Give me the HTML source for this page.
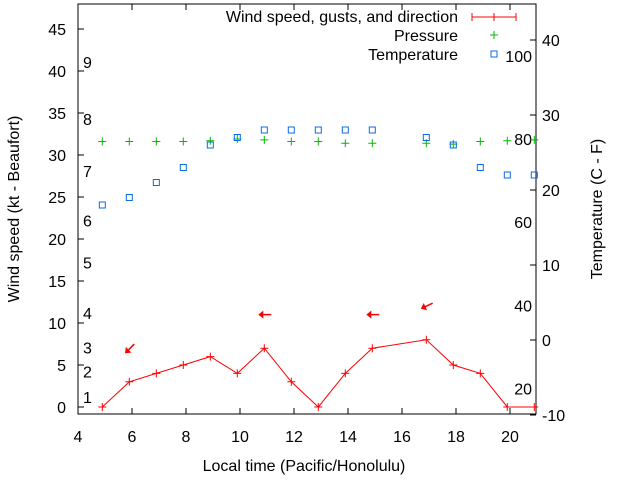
<!DOCTYPE html>
<html><head><meta charset="utf-8"><style>
body{margin:0;background:#fff;}
svg{font-family:"Liberation Sans",sans-serif;font-size:16px;}
</style></head><body>
<svg id="c" width="640" height="480"></svg>
<script>
const times=[4.9,5.9,6.9,7.9,8.9,9.9,10.9,11.9,12.9,13.9,14.9,16.9,17.9,18.9,19.9,20.9];
const wind=[0,3,4,5,6,4,7,3,0,4,7,8,5,4,0,0];
const pressure=[31.6,31.6,31.6,31.6,31.7,31.9,31.8,31.6,31.6,31.4,31.4,31.4,31.3,31.6,31.7,31.8];
const tempC=[18,19,21,23,26,27,28,28,28,28,28,27,26,23,22,22];
const arrowTimes=[5.9,10.9,14.9,16.9];
const arrowLevels=[6.9,11,11,12];
const arrowAngles=[135,180,180,155];
const xTicks=[4,6,8,10,12,14,16,18,20];
const yTicks=[0,5,10,15,20,25,30,35,40,45];
const y2Ticks=[-10,0,10,20,30,40];
const beaufort=[[1,1.2],[2,4.2],[3,7.1],[4,11.2],[5,17.2],[6,22.2],[7,28.1],[8,34.3],[9,41.1]];
const fahr=[[20,2.2],[40,12.1],[60,22],[80,31.9],[100,41.8]];
const L=78,R=536,T=4,B=414;
const X=t=>L+(t-4)*27;
const Y=v=>407-v*8.4;
const Y2=v=>340-v*7.5;
const svg=document.getElementById('c');
const NS='http://www.w3.org/2000/svg';
function mk(tag,attrs,parent){const e=document.createElementNS(NS,tag);for(const k in attrs)e.setAttribute(k,attrs[k]);(parent||svg).appendChild(e);return e;}
function txt(x,y,s,anchor,fill){const e=mk('text',{x:x,y:y,'text-anchor':anchor||'middle',fill:fill||'#000'});e.textContent=s;return e;}
let fr=mk('rect',{x:L,y:T,width:R-L,height:B-T,fill:'none',stroke:'#000','stroke-width':1});

xTicks.forEach(t=>{const x=X(t);mk('line',{x1:x,y1:B,x2:x,y2:B-6,stroke:'#000'});mk('line',{x1:x,y1:T,x2:x,y2:T+6,stroke:'#000'});
 const e=txt(x,B+28,String(t));});
yTicks.forEach(v=>{const y=Y(v);mk('line',{x1:L,y1:y,x2:L+6,y2:y,stroke:'#000'});
 const e=txt(L-12,y+6,String(v),'end');});
y2Ticks.forEach(v=>{const y=Y2(v);mk('line',{x1:R,y1:y,x2:R-6,y2:y,stroke:'#000'});
 const e=txt(R+6,y+6,String(v),'start');});
beaufort.forEach(b=>{const e=txt(83,Y(b[1])+6,String(b[0]),'start');});
fahr.forEach(f=>{const e=txt(532,Y(f[1])+6,String(f[0]),'end');});
let t1=txt(304,471,'Local time (Pacific/Honolulu)');
let t2=txt(0,0,'Wind speed (kt - Beaufort)');t2.setAttribute('transform','translate(19,209) rotate(-90)');
let t3=txt(0,0,'Temperature (C - F)');t3.setAttribute('transform','translate(602,209) rotate(-90)');
let pl=mk('polyline',{points:times.map((t,i)=>X(t)+','+Y(wind[i])).join(' '),fill:'none',stroke:'#f00','stroke-width':1});

times.forEach((t,i)=>{const x=X(t),y=Y(wind[i]);const g=mk('path',{d:`M${x-4},${y}h8M${x},${y-4}v8`,stroke:'#f00'});
 });
arrowTimes.forEach((t,i)=>{const x=X(t),y=Y(arrowLevels[i]);const g=mk('g',{transform:`translate(${x},${y}) rotate(${arrowAngles[i]})`});
 mk('line',{x1:-7,y1:0,x2:5,y2:0,stroke:'#f00','stroke-width':1.5},g);mk('path',{d:'M6,0 L1,-4 L1,4 Z',fill:'#f00'},g);
 });
times.forEach((t,i)=>{const x=X(t),y=Y(pressure[i]);const g=mk('path',{d:`M${x-4},${y}h8M${x},${y-4}v8`,stroke:'#0b0'});
 });
times.forEach((t,i)=>{const x=X(t),y=Y2(tempC[i]);const g=mk('rect',{x:x-3,y:y-3,width:6,height:6,fill:'none',stroke:'#0a6be8'});
 });
const lg=mk('g',{});
[['Wind speed, gusts, and direction',22],['Pressure',41],['Temperature',60]].forEach((r,i)=>{const e=txt(458,r[1],r[0],'end');lg.appendChild(e);});
mk('path',{d:'M472,17h44M472,13v8M516,13v8M494,13v8',stroke:'#f00'},lg);
mk('path',{d:'M490,35h8M494,31v8',stroke:'#0b0'},lg);
mk('rect',{x:491,y:51,width:6,height:6,fill:'none',stroke:'#0a6be8'},lg);
</script>
</body></html>
